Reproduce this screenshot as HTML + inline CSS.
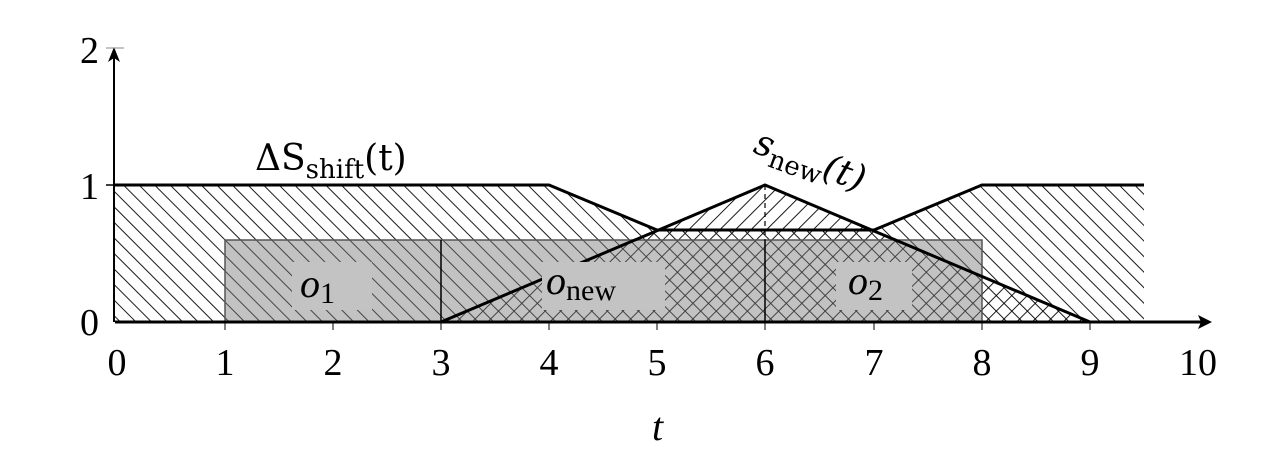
<!DOCTYPE html>
<html><head><meta charset="utf-8"><style>html,body{margin:0;padding:0;background:#fff;}svg{display:block}</style></head>
<body>
<svg width="1288" height="464" viewBox="0 0 1288 464" xmlns="http://www.w3.org/2000/svg">
<defs>
<pattern id="hb" patternUnits="userSpaceOnUse" width="11" height="11" patternTransform="rotate(-45)">
<line x1="0" y1="0" x2="0" y2="11" stroke="#000" stroke-width="1.8"/></pattern>
<pattern id="hf" patternUnits="userSpaceOnUse" width="11" height="11" patternTransform="rotate(45)">
<line x1="0" y1="0" x2="0" y2="11" stroke="#000" stroke-width="1.8"/></pattern>
</defs>
<g font-family="Liberation Serif, serif" font-size="38" fill="#000">
<polygon points="115,322 115,185 549,185 657,230 874,230 982,185 1144,185 1144,322" fill="url(#hb)"/>
<polygon points="441,322 765,185 1090,322" fill="url(#hf)"/>
<rect x="225" y="240" width="757" height="82" fill="rgba(120,120,120,0.45)" stroke="#555" stroke-width="1.5"/>
<line x1="441" y1="240" x2="441" y2="322" stroke="#000" stroke-width="1.5"/>
<line x1="765" y1="240" x2="765" y2="322" stroke="#000" stroke-width="1.5"/>
<line x1="765" y1="185" x2="765" y2="240" stroke="#000" stroke-width="1.2" stroke-dasharray="5,4"/>
<polyline points="115,185 549,185 657,230 874,230 982,185 1144,185" fill="none" stroke="#000" stroke-width="3"/>
<polyline points="441,322 765,185 1090,322" fill="none" stroke="#000" stroke-width="3"/>
<rect x="292" y="262" width="80" height="48" fill="#c3c3c3"/>
<rect x="542" y="262" width="123" height="48" fill="#c3c3c3"/>
<rect x="836" y="262" width="76" height="48" fill="#c3c3c3"/>
<text x="300" y="297" font-style="italic" font-size="40">o<tspan font-style="normal" font-size="30" dy="6">1</tspan></text>
<text x="546" y="294" font-style="italic" font-size="40">o<tspan font-style="normal" font-size="30" dy="6">new</tspan></text>
<text x="848" y="294" font-style="italic" font-size="40">o<tspan font-style="normal" font-size="30" dy="6">2</tspan></text>
<line x1="115" y1="322" x2="1205" y2="322" stroke="#000" stroke-width="3"/>
<polygon points="1212,322 1198,315 1201,322 1198,329" fill="#000"/>
<line x1="114" y1="322" x2="114" y2="52" stroke="#000" stroke-width="2"/>
<polygon points="114,47 108,62 114,58 120,62" fill="#000"/>
<line x1="106" y1="48" x2="124" y2="48" stroke="#888" stroke-width="1"/>
<line x1="106" y1="185" x2="122" y2="185" stroke="#000" stroke-width="1.5"/>
<g stroke="#000" stroke-width="1">
<line x1="225" y1="322" x2="225" y2="330"/><line x1="333" y1="322" x2="333" y2="330"/><line x1="441" y1="322" x2="441" y2="330"/><line x1="549" y1="322" x2="549" y2="330"/><line x1="657" y1="322" x2="657" y2="330"/><line x1="765" y1="322" x2="765" y2="330"/><line x1="874" y1="322" x2="874" y2="330"/><line x1="982" y1="322" x2="982" y2="330"/><line x1="1090" y1="322" x2="1090" y2="330"/></g>
<text x="80" y="63">2</text>
<text x="80" y="199">1</text>
<text x="80" y="335">0</text>
<g text-anchor="middle">
<text x="117" y="375">0</text><text x="225" y="375">1</text><text x="333" y="375">2</text><text x="441" y="375">3</text><text x="549" y="375">4</text><text x="657" y="375">5</text><text x="765" y="375">6</text><text x="874" y="375">7</text><text x="982" y="375">8</text><text x="1090" y="375">9</text><text x="1198" y="375">10</text>
</g>
<text x="652" y="440" font-style="italic" font-size="40">t</text>
<text x="255" y="170" font-family="DejaVu Serif, serif" font-size="36">ΔS<tspan font-size="26" dy="8">shift</tspan><tspan dy="-8">(t)</tspan></text>
<text x="752" y="152" font-family="DejaVu Serif, serif" font-style="italic" font-size="36" transform="rotate(20 752 152)">s<tspan font-style="normal" font-size="26" dy="8">new</tspan><tspan dy="-8">(t)</tspan></text>
</g>
</svg>
</body></html>
